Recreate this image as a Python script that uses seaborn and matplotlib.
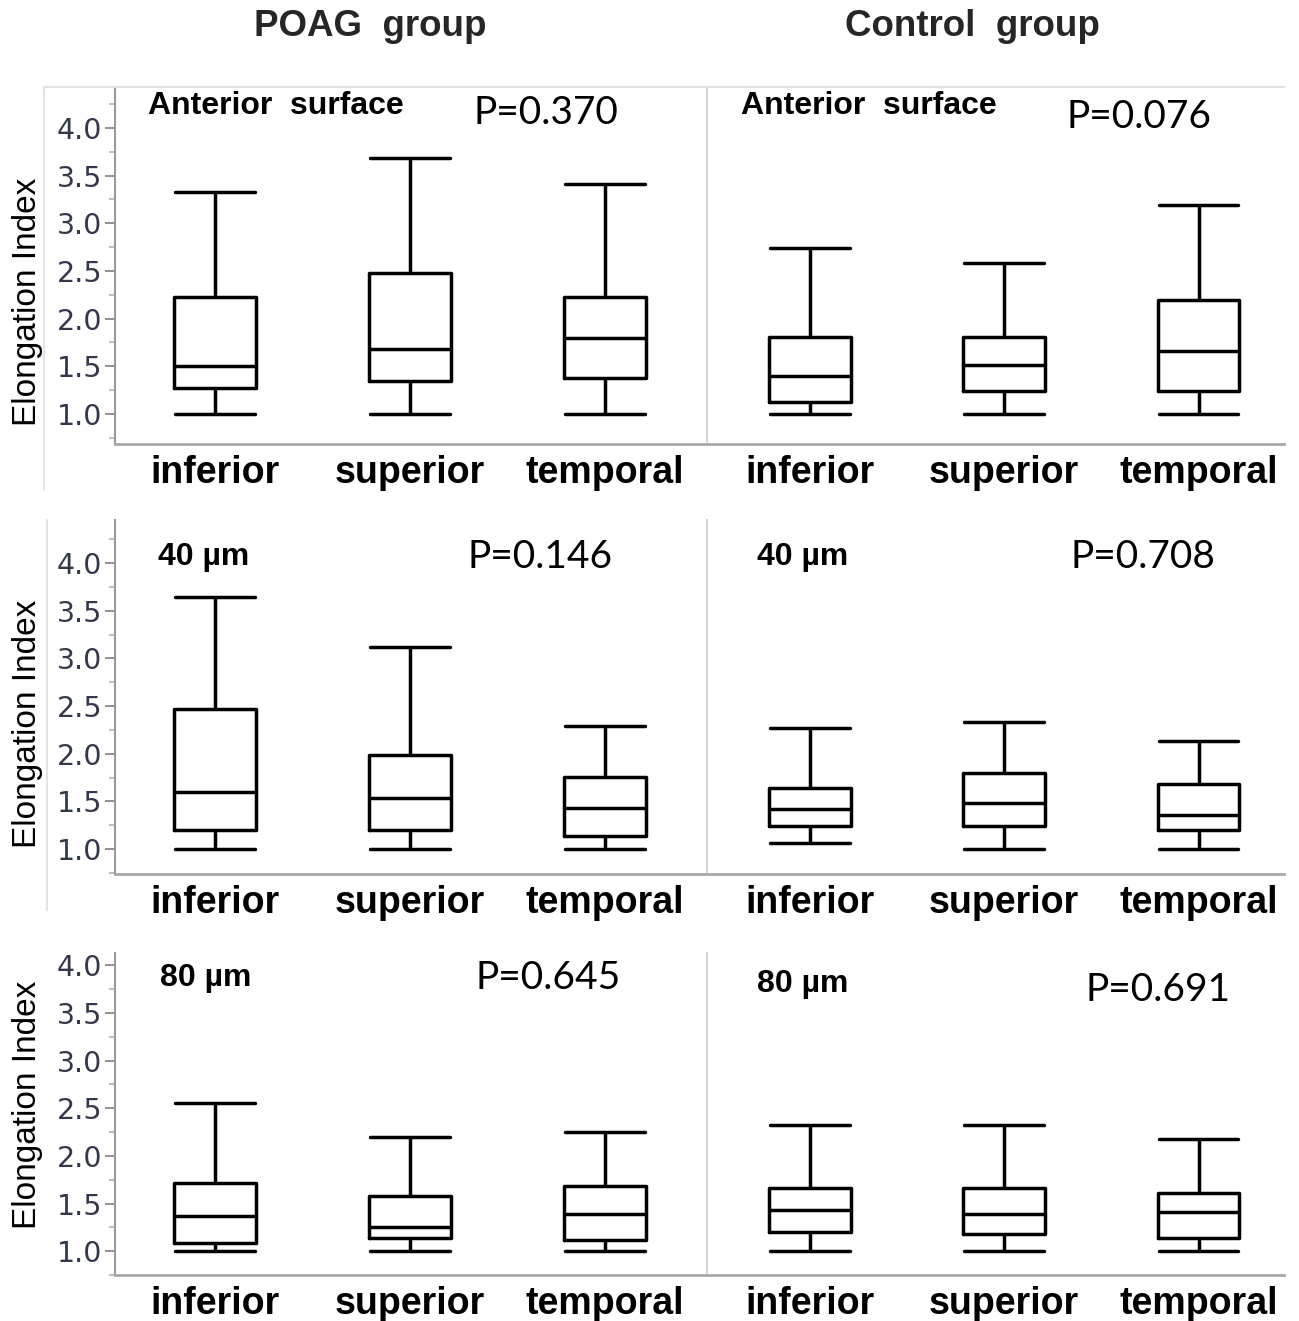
import numpy as np
import pandas as pd
import matplotlib
matplotlib.use("Agg")
import matplotlib.pyplot as plt
import seaborn as sns
from matplotlib.ticker import MultipleLocator, FixedLocator
from matplotlib.lines import Line2D

# ---------------- data ----------------
regions = ["inferior", "superior", "temporal"]
# five-number summaries per region: [min, Q1, median, Q3, max]
poag_anterior = [[1.00, 1.27, 1.50, 2.23, 3.33],
                 [1.00, 1.35, 1.68, 2.48, 3.69],
                 [1.00, 1.38, 1.80, 2.23, 3.41]]
control_anterior = [[1.00, 1.13, 1.40, 1.81, 2.74],
                    [1.00, 1.24, 1.51, 1.81, 2.58],
                    [1.00, 1.24, 1.66, 2.20, 3.19]]
poag_40 = [[1.00, 1.20, 1.60, 2.47, 3.64],
           [1.00, 1.20, 1.54, 1.99, 3.12],
           [1.00, 1.14, 1.43, 1.76, 2.29]]
control_40 = [[1.06, 1.24, 1.42, 1.64, 2.27],
              [1.00, 1.24, 1.48, 1.80, 2.33],
              [1.00, 1.20, 1.36, 1.68, 2.13]]
poag_80 = [[1.00, 1.09, 1.37, 1.72, 2.56],
           [1.00, 1.14, 1.25, 1.58, 2.20],
           [1.00, 1.12, 1.39, 1.68, 2.25]]
control_80 = [[1.00, 1.20, 1.43, 1.66, 2.32],
              [1.00, 1.18, 1.39, 1.66, 2.32],
              [1.00, 1.14, 1.41, 1.61, 2.18]]

group_titles = ["POAG  group", "Control  group"]
layer_labels = ["Anterior  surface", "40 µm", "80 µm"]
p_values = [["P=0.370", "P=0.076"],
            ["P=0.146", "P=0.708"],
            ["P=0.645", "P=0.691"]]
y_ticks = [1.0, 1.5, 2.0, 2.5, 3.0, 3.5, 4.0]
y_label = "Elongation Index"

panels = [[poag_anterior, control_anterior],
          [poag_40, control_40],
          [poag_80, control_80]]


def to_frame(summary):
    rows = []
    for reg, vals in zip(regions, summary):
        for v in vals:
            rows.append({"region": reg, "value": v})
    return pd.DataFrame(rows)


# ---------------- style / layout ----------------
sns.set_style("white")
plt.rcParams["font.family"] = ["Liberation Sans", "DejaVu Sans"]

W, H = 1299, 1321
fig = plt.figure(figsize=(W / 100, H / 100), dpi=100)


def fx(px):
    return px / W


def fy(py):
    return 1 - py / H


row_geo = [(87, 444, (0.685, 4.43)),
           (520, 874, (0.74, 4.45)),
           (953, 1275, (0.75, 4.13))]
col_geo = [(115, 705, (-0.513, 2.513)),
           (707, 1284, (-0.53, 2.44))]
ylabel_y = [0.398, 0.424, 0.528]

layer_pos = [[(148, 106), (741, 106)],
             [(158, 557), (757, 557)],
             [(160, 978), (757, 984)]]
p_pos = [[(546, 113), (1139, 117)],
         [(540, 557), (1143, 557)],
         [(548, 978), (1158, 990)]]

tick_color = "#33394a"

for r, (top, bot, ylim) in enumerate(row_geo):
    for c, (left, right, xlim) in enumerate(col_geo):
        ax = fig.add_axes([fx(left), fy(bot), fx(right - left), (bot - top) / H])
        df = to_frame(panels[r][c])
        sns.boxplot(data=df, x="region", y="value", order=regions, ax=ax,
                    fill=False, color="black", linewidth=2.5, width=0.42,
                    whis=(0, 100), showfliers=False, capwidths=0.41)
        ax.set_xlim(*xlim)
        ax.set_ylim(*ylim)
        ax.set_xlabel("")
        ax.set_facecolor("white")

        # spines
        for s in ax.spines.values():
            s.set_visible(False)
        ax.spines["bottom"].set_visible(True)
        ax.spines["bottom"].set_color("#a8a8a8")
        ax.spines["bottom"].set_linewidth(2.0)
        if r == 0:
            ax.spines["top"].set_visible(True)
            ax.spines["top"].set_color("#e2e2e2")
            ax.spines["top"].set_linewidth(1.5)
        ax.spines["left"].set_visible(True)
        if c == 0:
            ax.spines["left"].set_color("#9a9a9a")
            ax.spines["left"].set_linewidth(1.5)
        else:
            ax.spines["left"].set_color("#d6d6d6")
            ax.spines["left"].set_linewidth(1.5)

        ax.tick_params(axis="x", length=0, pad=8, labelsize=27)
        for lab in ax.get_xticklabels():
            lab.set_fontweight("bold")
            lab.set_color("black")

        if c == 0:
            ax.yaxis.set_major_locator(FixedLocator(y_ticks))
            ax.yaxis.set_minor_locator(MultipleLocator(0.25))
            ax.tick_params(axis="y", which="major", left=True, length=7,
                           width=1.3, color="#8a8a8a", direction="out",
                           labelsize=20.5, labelcolor=tick_color, pad=2)
            ax.tick_params(axis="y", which="minor", left=True, length=4,
                           width=1.1, color="#aaaaaa", direction="out")
            ax.set_yticklabels([f"{t:.1f}" for t in y_ticks],
                               family="DejaVu Sans")
            ax.set_ylabel(y_label, fontsize=24, color="black")
            ax.yaxis.set_label_coords(-0.122, ylabel_y[r])
        else:
            ax.set_yticks([])
            ax.set_ylabel("")

        lx, ly = layer_pos[r][c]
        fig.text(fx(lx), fy(ly), layer_labels[r], fontsize=23,
                 fontweight="bold", ha="left", va="center", color="black")
        px, py = p_pos[r][c]
        fig.text(fx(px), fy(py), p_values[r][c], fontsize=28,
                 family=["Lato", "DejaVu Sans"], ha="center", va="center",
                 color="black")

# group titles
fig.text(fx(370), fy(26), group_titles[0], fontsize=26.5, fontweight="bold",
         ha="center", va="center")
fig.text(fx(972), fy(26), group_titles[1], fontsize=26.5, fontweight="bold",
         ha="center", va="center")

# light outer frame lines of the pasted panels
fig.add_artist(Line2D([fx(44), fx(44)], [fy(87), fy(490)], color="#e4e4e4",
                      lw=1.5, transform=fig.transFigure))
fig.add_artist(Line2D([fx(44), fx(115)], [fy(87), fy(87)], color="#e4e4e4",
                      lw=1.5, transform=fig.transFigure))
fig.add_artist(Line2D([fx(47), fx(47)], [fy(520), fy(910)], color="#e4e4e4",
                      lw=1.5, transform=fig.transFigure))

fig.savefig("out.png", dpi=100, facecolor="white")
